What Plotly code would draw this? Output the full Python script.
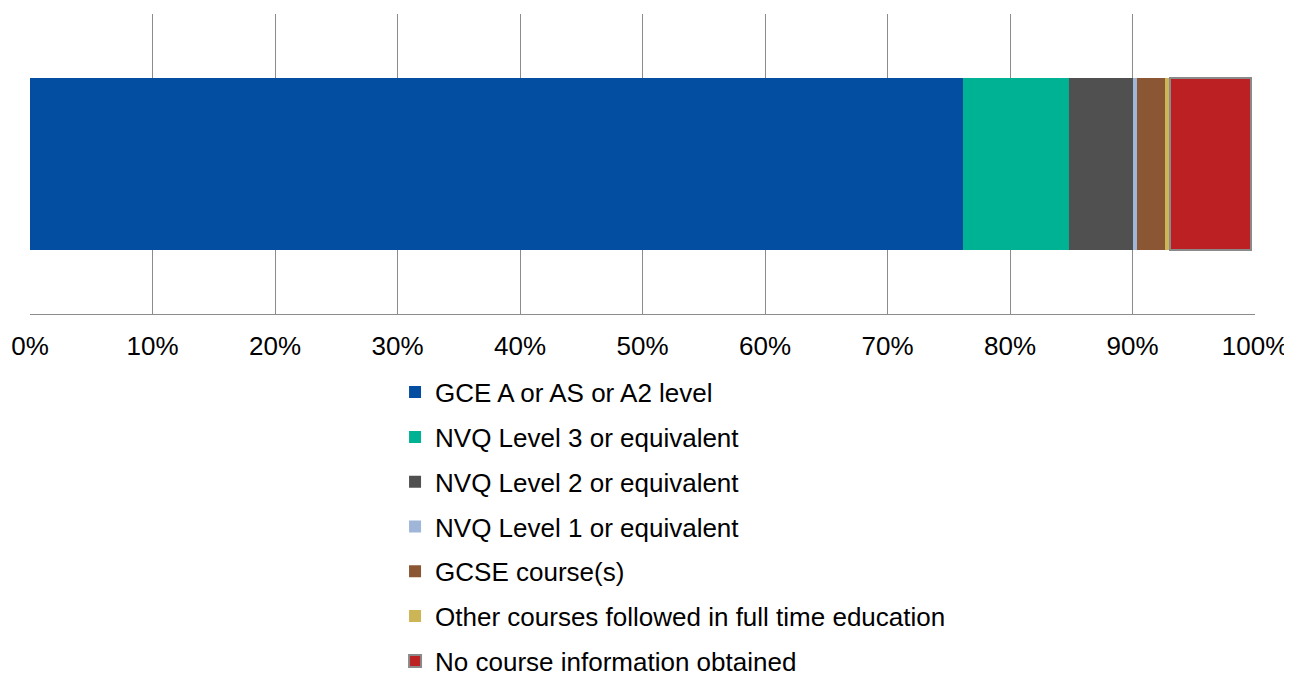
import plotly.graph_objs as go

# share of leavers by course followed (percent of bar)
categories = [
    "GCE A or AS or A2 level",
    "NVQ Level 3 or equivalent",
    "NVQ Level 2 or equivalent",
    "NVQ Level 1 or equivalent",
    "GCSE course(s)",
    "Other courses followed in full time education",
    "No course information obtained",
]
values = [76.2, 8.6, 5.2, 0.4, 2.25, 0.4, 6.6]
colors = ["#034EA0", "#00B294", "#505050", "#A0B6D8", "#8B5633", "#CCB554", "#BC2023"]
tick_vals = [0, 10, 20, 30, 40, 50, 60, 70, 80, 90, 100]
tick_text = [f"{v}%" for v in tick_vals]

fig = go.Figure()
for i, (name, val, col) in enumerate(zip(categories, values, colors)):
    line = dict(color="#8a8a8a", width=2) if i == len(categories) - 1 else dict(width=0)
    fig.add_trace(
        go.Bar(
            y=[""],
            x=[val],
            name=name,
            orientation="h",
            legendgroup=str(i),
            marker=dict(color=col, line=line),
            width=0.573,
        )
    )

# page body has an 8px margin, so the figure is a bit smaller than the window
fig.update_layout(
    width=1284,
    height=668,
    barmode="stack",
    template="simple_white",
    font=dict(family="Liberation Sans, Arial, sans-serif", size=26, color="#000000"),
    margin=dict(l=22, r=37, t=6, b=362, autoexpand=False),
    xaxis=dict(
        range=[0, 100],
        tickvals=tick_vals,
        ticktext=tick_text,
        tickfont=dict(size=26),
        showgrid=True,
        gridcolor="#8c8c8c",
        gridwidth=1,
        showline=True,
        linecolor="#8c8c8c",
        linewidth=1,
        ticks="",
        ticklabelstandoff=9,
        zeroline=False,
        automargin=False,
    ),
    yaxis=dict(
        range=[-0.5, 0.5],
        showticklabels=False,
        showline=False,
        ticks="",
        automargin=False,
    ),
    showlegend=True,
    legend=dict(
        orientation="v",
        xref="paper",
        x=0.298,
        xanchor="left",
        yref="container",
        y=0.460,
        yanchor="top",
        traceorder="grouped",
        tracegroupgap=8,
        font=dict(size=26),
        itemwidth=30,
    ),
)

fig.write_html("out.html")
